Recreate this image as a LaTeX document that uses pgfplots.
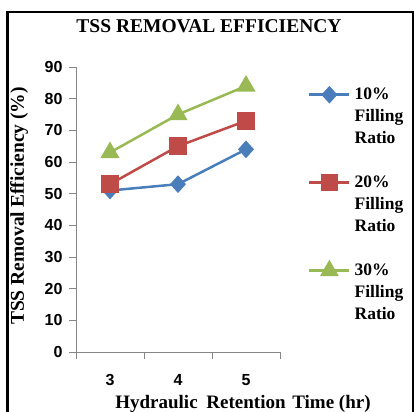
\documentclass[border=0pt]{standalone}
\usepackage{fontspec}
\setmainfont{Liberation Serif}
\newfontfamily\sansfont{Liberation Sans}
\usepackage{pgfplots}
\pgfplotsset{compat=1.18}
\definecolor{cblue}{HTML}{4A7EBB}
\definecolor{cred}{HTML}{BE4B48}
\definecolor{cgreen}{HTML}{98B954}
\definecolor{axgray}{HTML}{868686}
\begin{document}
\begin{tikzpicture}[x=1bp,y=1bp]
\path[use as bounding box] (0,0) rectangle (414,412);
\draw[line width=2bp] (7.5,0) -- (7.5,400) -- (413,400) -- (413,0);
\node[font=\fontsize{19.5bp}{22bp}\selectfont\bfseries] at (209,386) {TSS REMOVAL EFFICIENCY};
\node[font=\fontsize{19bp}{22bp}\selectfont\bfseries] at (243,8) {Hydraulic\hspace{4bp} Retention\hspace{2bp} Time (hr)};
\node[font=\fontsize{19.5bp}{22bp}\selectfont\bfseries, rotate=90] at (19,206) {TSS Removal\hspace{-1bp} Efficiency (\%)};
\begin{axis}[
  at={(76bp,60bp)}, anchor=south west,
  scale only axis, width=204bp, height=285bp,
  xmin=-0.5, xmax=2.5, ymin=0, ymax=90,
  axis x line*=bottom, axis y line*=left,
  axis line style={draw=axgray, line width=0.8bp},
  xtick={0,1,2}, xticklabels={3,4,5},
  minor xtick={-0.5,0.5,1.5,2.5},
  ytick={0,10,...,90},
  major x tick style={draw=none},
  minor tick style={draw=axgray, line width=0.8bp},
  minor tick length=7bp,
  major tick length=7bp,
  y tick style={draw=axgray, line width=0.8bp},
  tick align=outside,
  /pgf/number format/assume math mode=true,
  ticklabel style={font=\fontsize{16bp}{18bp}\selectfont\sansfont\bfseries},
  xticklabel style={yshift=-12bp},
  yticklabel style={xshift=-3bp},
  legend style={at={(1.137,0.935)}, anchor=north west, draw=none, fill=none,
    font=\fontsize{17.5bp}{22bp}\selectfont\bfseries, inner sep=0pt,
    nodes={text height=14bp, text depth=4bp, inner sep=0pt},
    row sep=4bp, column sep=4bp},
  legend cell align=left,
  legend image code/.code={
    \draw[mark repeat=2,mark phase=2,#1] plot coordinates {(0bp,0bp) (20bp,0bp) (40bp,0bp)};
  },
  every axis plot/.append style={line width=2.5bp},
]
\addplot[cblue, mark=diamond*, mark size=7bp, mark options={solid, xscale=1.2}] coordinates {(0,51) (1,53) (2,64)};
\addlegendentry{10\%}
\addlegendimage{empty legend}\addlegendentry{Filling}
\addlegendimage{empty legend}\addlegendentry{Ratio}
\addlegendimage{empty legend}\addlegendentry{}
\addplot[cred, mark=square*, mark size=7.5bp] coordinates {(0,53) (1,65) (2,73)};
\addlegendentry{20\%}
\addlegendimage{empty legend}\addlegendentry{Filling}
\addlegendimage{empty legend}\addlegendentry{Ratio}
\addlegendimage{empty legend}\addlegendentry{}
\addplot[cgreen, mark=triangle*, mark size=8.5bp] coordinates {(0,63) (1,75) (2,84)};
\addlegendentry{30\%}
\addlegendimage{empty legend}\addlegendentry{Filling}
\addlegendimage{empty legend}\addlegendentry{Ratio}
\end{axis}
\end{tikzpicture}
\end{document}
